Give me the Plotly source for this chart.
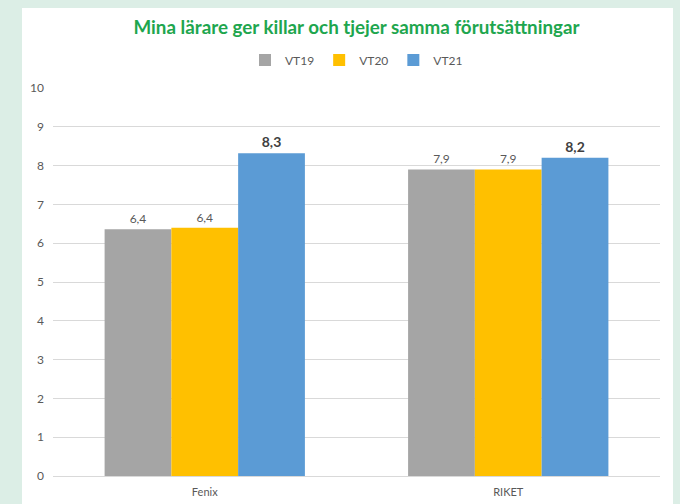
import plotly.graph_objects as go

categories = ["Fenix", "RIKET"]
series_names = ["VT19", "VT20", "VT21"]
vt19 = [6.36, 7.9]
vt20 = [6.4, 7.9]
vt21 = [8.32, 8.2]
colors = ["#A5A5A5", "#FFC000", "#5B9BD5"]
y_ticks = list(range(0, 11))
title_text = "Mina lärare ger killar och tjejer samma förutsättningar"

FONT = "Lato, 'Open Sans', sans-serif"

fig = go.Figure()
for name, vals, col in zip(series_names, [vt19, vt20, vt21], colors):
    bold = name == "VT21"
    fig.add_trace(go.Bar(
        x=categories, y=vals, name=name,
        marker=dict(color=col, line=dict(width=0)),
        texttemplate="<b>%{y:.1f}</b>" if bold else "%{y:.1f}",
        textposition="outside",
        cliponaxis=False,
        textfont=dict(family=FONT, size=14 if bold else 12,
                      color="#404040" if bold else "#595959"),
    ))

fig.update_layout(
    width=680, height=504,
    separators=", ",
    barmode="group", bargap=0.34, bargroupgap=0,
    paper_bgcolor="#DCEEE6", plot_bgcolor="white",
    margin=dict(l=53, r=20, t=88, b=28, autoexpand=False),
    font=dict(family=FONT, color="#595959", size=12),
    title=dict(text="<b>" + title_text + "</b>", x=0.5, xref="paper", xanchor="center",
               y=1 - 27 / 504, yref="container", yanchor="middle",
               font=dict(family=FONT, size=18.8, color="#1EA64E")),
    legend=dict(orientation="h", x=0.5, xanchor="center", y=1 - 60 / 504, yref="container",
                yanchor="middle",
                font=dict(size=12, color="#595959"), itemwidth=30,
                traceorder="normal", bgcolor="rgba(0,0,0,0)"),
    xaxis=dict(showgrid=False, showline=True, linecolor="#D9D9D9", linewidth=1,
               ticks="", automargin=False, ticklabelstandoff=6,
               tickfont=dict(size=11, color="#595959")),
    yaxis=dict(range=[0, 10], tickvals=y_ticks, showgrid=True, gridcolor="#D9D9D9",
               zeroline=False, ticks="", ticklabelstandoff=8, automargin=False,
               tickfont=dict(size=12, color="#595959")),
    shapes=[dict(type="rect", xref="paper", yref="paper", layer="below",
                 x0=-31/607, x1=1 + 13/607, y0=-1, y1=1 + 80/388,
                 fillcolor="white", line=dict(width=0))],
)

fig.write_html("out.html", config={"displayModeBar": False},
               post_script="document.body.style.margin='0px';document.body.style.background='#DCEEE6';")
